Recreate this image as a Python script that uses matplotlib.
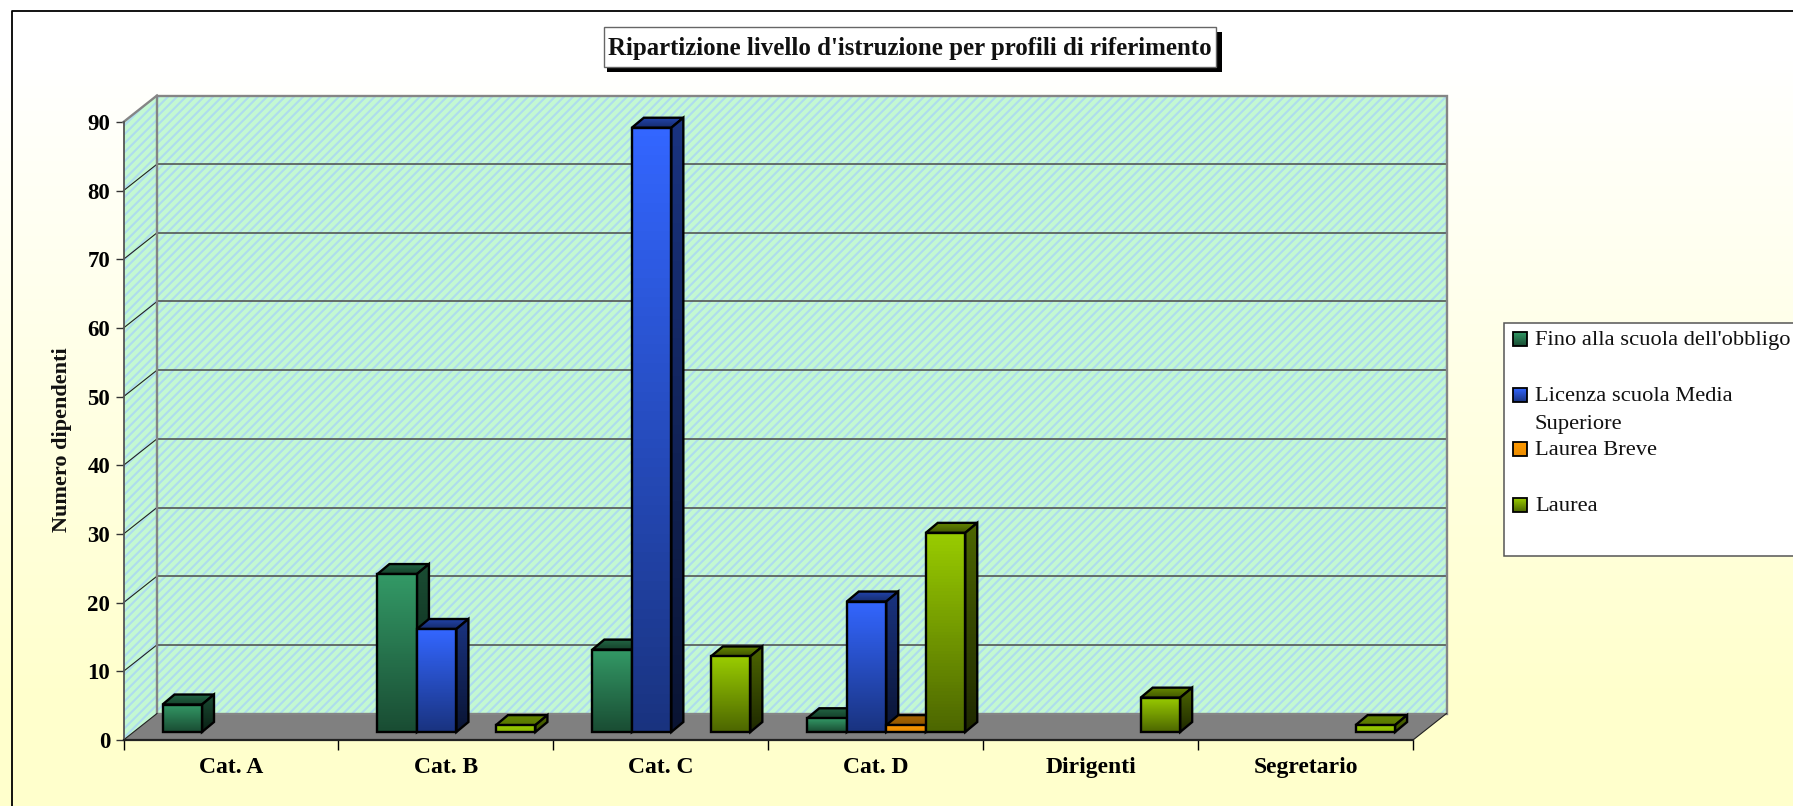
import numpy as np
import matplotlib
matplotlib.use("Agg")
import matplotlib.pyplot as plt
from matplotlib.patches import Polygon, Rectangle
from matplotlib.colors import to_rgb, LinearSegmentedColormap

plt.rcParams['font.family'] = ['Liberation Serif', 'DejaVu Serif']

W, H = 1793, 806

categories = ["Cat. A", "Cat. B", "Cat. C", "Cat. D", "Dirigenti", "Segretario"]
series_names = ["Fino alla scuola dell'obbligo", "Licenza scuola Media\nSuperiore", "Laurea Breve", "Laurea"]
fino = [4, 23, 12, 2, 0, 0]
licenza = [0, 15, 88, 19, 0, 0]
breve = [0, 0, 0, 1, 0, 0]
laurea = [0, 1, 11, 29, 5, 1]
series_values = [fino, licenza, breve, laurea]
series_colors = ["#339966", "#3366FF", "#FF9900", "#99CC00"]
yticks = list(range(0, 100, 10))
title = "Ripartizione livello d'istruzione per profili di riferimento"
ylabel = "Numero dipendenti"

fig = plt.figure(figsize=(W / 100, H / 100), dpi=100)

# background gradient + outer frame
bg = fig.add_axes([0, 0, 1, 1], zorder=0)
bg.set_xlim(0, W); bg.set_ylim(H, 0); bg.axis("off")
grad = np.ones((H, 1, 3))
t = np.clip((np.arange(H) - 60) / (700 - 60), 0, 1)[:, None]
grad[:, :, 2] = (1 - t) * 1.0 + t * (0xCC / 255)
bg.imshow(grad, extent=[0, W, H, 0], aspect="auto", zorder=0)
bg.plot([11.5, 11.5, W], [H, 10.5, 10.5], color="black", lw=1.3, zorder=1)

# main axes: x in category units, y in value units
x0, x1, y0, y90 = 123.5, 1413.0, 740.0, 122.0
ax = fig.add_axes([x0 / W, 1 - y0 / H, (x1 - x0) / W, (y0 - y90) / H], zorder=1)
ax.patch.set_alpha(0)
ax.set_xlim(0, 6); ax.set_ylim(0, 90)
px_x = 6 / (x1 - x0)
px_y = 90 / (y0 - y90)

wall_dx, wall_dy = 33.5 * px_x, 26.5 * px_y
bar_dx, bar_dy = 12 * px_x, 10 * px_y
base = 8 * px_y
bar_w = 39.5 * px_x
bar_off = 39 * px_x


def texture(poly_pts, z):
    xs, ys = zip(*poly_pts)
    lx, hx, ly, hy = min(xs), max(xs), min(ys), max(ys)
    nx = int((hx - lx) / px_x) + 2
    ny = int((hy - ly) / px_y) + 2
    xx, yy = np.meshgrid(np.arange(nx), np.arange(ny))
    s = 0.5 + 0.5 * np.sin(2 * np.pi * (xx - yy) / 9.0)
    s = np.clip((s - 0.25) * 2.4 + 0.5, 0, 1)[..., None]
    a = np.array(to_rgb("#C3F8D2")); b = np.array(to_rgb("#AEDCEE"))
    img = a * s + b * (1 - s)
    p = Polygon(poly_pts, closed=True, transform=ax.transData, facecolor="none", edgecolor="none")
    p.set_clip_on(False)
    ax.add_patch(p)
    im = ax.imshow(img, extent=[lx, lx + nx * px_x, ly, ly + ny * px_y], origin="lower",
                   aspect="auto", interpolation="nearest", zorder=z)
    im.set_clip_box(fig.bbox)
    im.set_clip_path(p)


def grad_poly(pts, c_top, c_bot, z):
    xs, ys = zip(*pts)
    cmap = LinearSegmentedColormap.from_list("g", [c_bot, c_top])
    p = Polygon(pts, closed=True, transform=ax.transData, facecolor="none",
                edgecolor="black", lw=1.7, zorder=z + 0.1, clip_on=False, joinstyle="miter")
    ax.add_patch(p)
    clip = Polygon(pts, closed=True, transform=ax.transData, facecolor="none", edgecolor="none")
    clip.set_clip_on(False)
    ax.add_patch(clip)
    im = ax.imshow(np.linspace(0, 1, 64)[:, None], extent=[min(xs), max(xs), min(ys), max(ys)],
                   origin="lower", cmap=cmap, vmin=0, vmax=1, aspect="auto", zorder=z)
    im.set_clip_box(fig.bbox)
    im.set_clip_path(clip)


def shade(c, f):
    return tuple(v * f for v in to_rgb(c))


# walls and floor
back = [(wall_dx, wall_dy), (6 + wall_dx, wall_dy), (6 + wall_dx, 90 + wall_dy), (wall_dx, 90 + wall_dy)]
side = [(0, 0), (wall_dx, wall_dy), (wall_dx, 90 + wall_dy), (0, 90)]
texture(back, 1)
texture(side, 1)
ax.add_patch(Polygon([(0, 0), (6, 0), (6 + wall_dx, wall_dy), (wall_dx, wall_dy)], closed=True,
                     facecolor="#808080", edgecolor="none", zorder=1.5, clip_on=False))
for v in yticks[1:-1]:
    ax.plot([0, wall_dx], [v, v + wall_dy], color="#222222", lw=0.8, zorder=1.6, clip_on=False)
    ax.plot([wall_dx, 6 + wall_dx], [v + wall_dy, v + wall_dy], color="#4a4a4a", lw=1.1,
            zorder=1.6, clip_on=False)
ax.add_patch(Polygon(back, closed=True, facecolor="none", edgecolor="#858585", lw=1.7, zorder=1.7, clip_on=False))
ax.plot([0, wall_dx], [90, 90 + wall_dy], color="#858585", lw=1.7, zorder=1.7, clip_on=False)
ax.plot([6, 6 + wall_dx], [0, wall_dy], color="#222222", lw=0.8, zorder=1.7, clip_on=False)
ax.plot([0, wall_dx], [0, wall_dy], color="#222222", lw=0.8, zorder=1.7, clip_on=False)

# bars
z = 2.0
for i in range(len(categories)):
    for j, vals in enumerate(series_values):
        v = vals[i]
        if v == 0:
            continue
        c = series_colors[j]
        l = i + bar_off + j * bar_w
        r = l + bar_w
        b = base
        t_ = base + v
        flat = v <= 1
        grad_poly([(l, t_), (r, t_), (r + bar_dx, t_ + bar_dy), (l + bar_dx, t_ + bar_dy)],
                  shade(c, 0.66), shade(c, 0.58 if flat else 0.42), z)
        grad_poly([(r, b), (r + bar_dx, b + bar_dy), (r + bar_dx, t_ + bar_dy), (r, t_)],
                  shade(c, 0.5), shade(c, 0.42 if flat else 0.2), z + 0.2)
        grad_poly([(l, b), (r, b), (r, t_), (l, t_)], c, shade(c, 0.9 if flat else 0.5), z + 0.4)
        z += 1

ax.set_xlim(0, 6); ax.set_ylim(0, 90)

# axes decoration
for s in ("top", "right"):
    ax.spines[s].set_visible(False)
ax.spines["left"].set_color("#555555"); ax.spines["left"].set_linewidth(1.3)
ax.spines["bottom"].set_color("#222222"); ax.spines["bottom"].set_linewidth(1.6)
ax.spines["left"].set_zorder(60); ax.spines["bottom"].set_zorder(60)
ax.set_yticks(yticks)
ax.set_yticklabels([str(v) for v in yticks], fontsize=16.5, fontweight="bold")
ax.tick_params(axis="y", length=6, width=1.0, color="#333333", pad=3.5)
ax.set_xticks(range(7))
ax.set_xticklabels([""] * 7)
ax.tick_params(axis="x", which="major", length=7.5, width=1.0, color="black")
ax.set_xticks(np.arange(6) + 0.5, minor=True)
ax.set_xticklabels(categories, minor=True, fontsize=17, fontweight="bold")
ax.tick_params(axis="x", which="minor", length=0, pad=12)

fig.text(61.5 / W, 1 - 440 / H, ylabel, rotation=90, ha="center", va="center",
         fontsize=16, fontweight="bold", color="#111111", zorder=5)

# overlay in pixel coordinates: title box and legend
ov = fig.add_axes([0, 0, 1, 1], zorder=2)
ov.set_xlim(0, W); ov.set_ylim(H, 0); ov.axis("off"); ov.patch.set_alpha(0)
ov.add_patch(Rectangle((607, 32), 615, 40, facecolor="black", edgecolor="none"))
ov.add_patch(Rectangle((603.5, 26.5), 612, 40, facecolor="white", edgecolor="#666666", lw=1.0))
ov.text(909.5, 48, title, ha="center", va="center", fontsize=17.9, fontweight="bold", color="#111111")

ov.add_patch(Rectangle((1503.5, 322.5), 400, 233, facecolor="white", edgecolor="#555555", lw=1.1, clip_on=True))
legend_y = [339, 395, 449, 505]
swatch_dark = [0.5, 0.5, 0.92, 0.5]
for name, col, ly, dk in zip(series_names, series_colors, legend_y, swatch_dark):
    cmap = LinearSegmentedColormap.from_list("l", [col, shade(col, dk)])
    ov.imshow(np.linspace(0, 1, 32)[:, None], extent=[1513, 1527, ly + 7, ly - 7], cmap=cmap,
              aspect="auto", zorder=3)
    ov.add_patch(Rectangle((1513, ly - 7), 14, 14, facecolor="none", edgecolor="black", lw=1.3, zorder=4))
    ov.text(1535, ly - 8, name, ha="left", va="top", fontsize=16.2, color="#111111",
            linespacing=1.62, zorder=4)
ov.set_xlim(0, W); ov.set_ylim(H, 0)

fig.savefig("out.png", dpi=100, facecolor="white")
